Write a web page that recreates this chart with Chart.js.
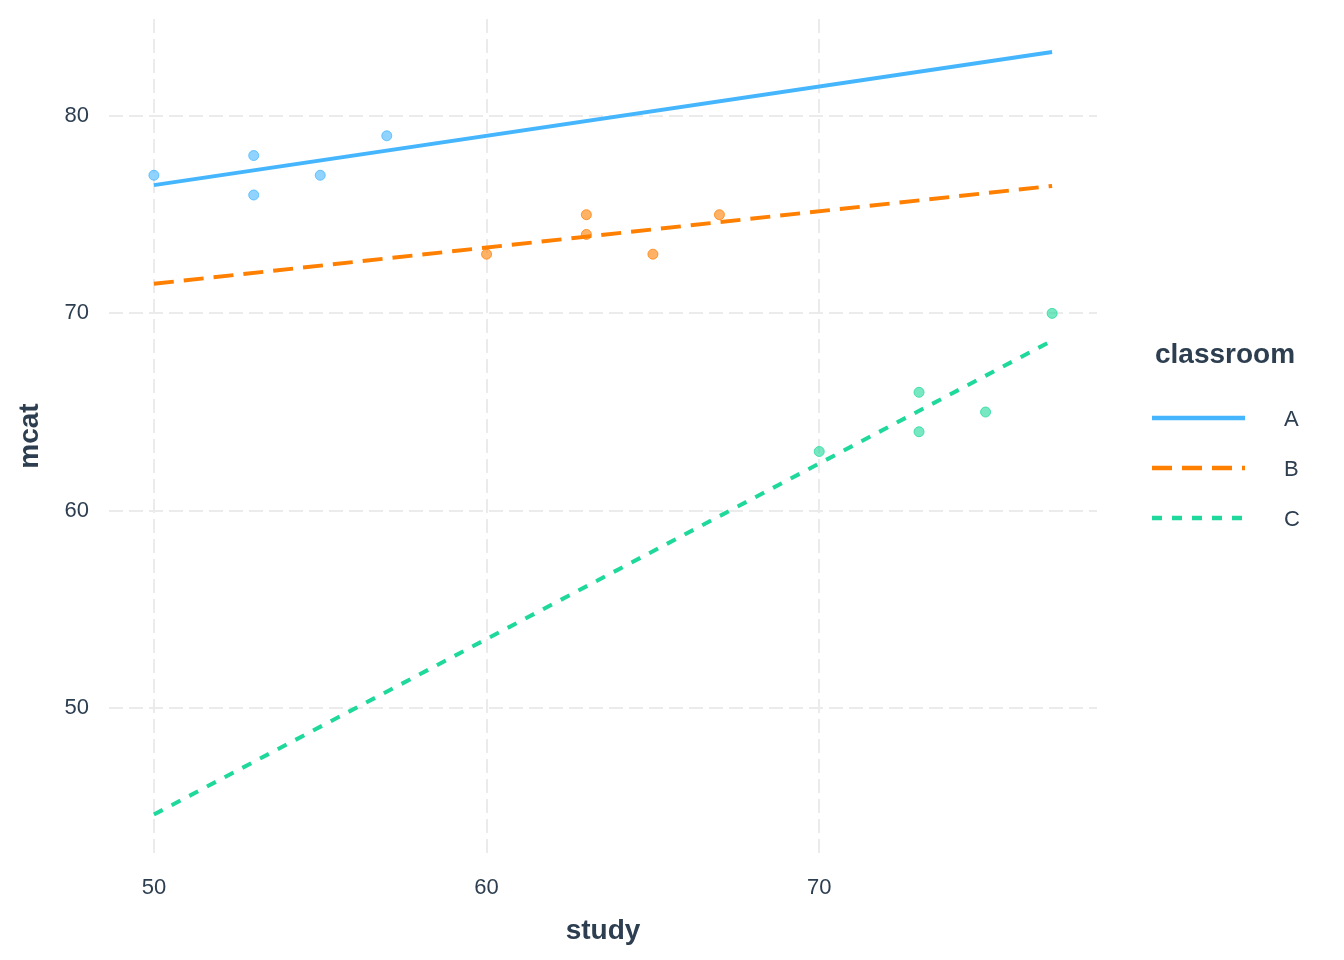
<!DOCTYPE html>
<html>
<head>
<meta charset="utf-8">
<script src="https://cdn.jsdelivr.net/npm/chart.js@4/dist/chart.umd.min.js"></script>
<style>
  body { margin: 0; background: #fff; }
  #wrap { width: 1344px; height: 960px; }
</style>
</head>
<body>
<div id="wrap"><canvas id="mcatChart" width="1344" height="960"></canvas></div>
<script>
// raw points per classroom
const studyA = [50, 53, 53, 55, 57];
const mcatA  = [77, 78, 76, 77, 79];
const studyB = [60, 63, 63, 65, 67];
const mcatB  = [73, 75, 74, 73, 75];
const studyC = [70, 73, 73, 75, 77];
const mcatC  = [63, 66, 64, 65, 70];

// fitted lines (ends)
const fitX  = [50, 77];
const fitA  = [76.5, 83.25];
const fitB  = [71.5, 76.46];
const fitC  = [44.6, 68.62];

const classrooms = ['A', 'B', 'C'];
const xTicks = [50, 60, 70];
const yTicks = [50, 60, 70, 80];

const colors = ['#45B6FE', '#FF7F00', '#1ED99B'];
const dashes = [[], [20, 10], [10, 10]];
const txt = '#2C3E50';
const fontFam = '"Liberation Sans", Arial, sans-serif';

function pts(xs, ys) {
    return xs.map((x, i) => ({ x: x, y: ys[i] }));
}
function alpha(hex, a) {
    const n = parseInt(hex.slice(1), 16);
    return 'rgba(' + (n >> 16) + ',' + ((n >> 8) & 255) + ',' + (n & 255) + ',' + a + ')';
}

const pointSets = [pts(studyA, mcatA), pts(studyB, mcatB), pts(studyC, mcatC)];
const fitSets = [pts(fitX, fitA), pts(fitX, fitB), pts(fitX, fitC)];

const datasets = [];
classrooms.forEach((c, i) => {
    datasets.push({
        label: c + ' points',
        data: pointSets[i],
        backgroundColor: alpha(colors[i], 0.6),
        borderColor: alpha(colors[i], 0.75),
        borderWidth: 1,
        pointRadius: 5,
        order: 2
    });
    datasets.push({
        label: c,
        data: fitSets[i],
        showLine: true,
        borderColor: colors[i],
        borderWidth: 4,
        borderDash: dashes[i],
        borderCapStyle: 'butt',
        pointRadius: 0,
        order: 1
    });
});

// ggplot-style legend on the right
const sideLegend = {
    id: 'sideLegend',
    afterDraw(chart) {
        const g = chart.ctx;
        g.save();
        g.fillStyle = txt;
        g.textBaseline = 'middle';
        g.textAlign = 'left';
        g.font = 'bold 28px ' + fontFam;
        g.fillText('classroom', 1155, 355);
        g.font = '22px ' + fontFam;
        classrooms.forEach((c, i) => {
            const y = 418 + i * 50;
            g.strokeStyle = colors[i];
            g.lineWidth = 4.5;
            g.lineCap = 'butt';
            g.setLineDash(dashes[i]);
            g.beginPath();
            g.moveTo(1152, y);
            g.lineTo(1245, y);
            g.stroke();
            g.setLineDash([]);
            g.fillText(c, 1284, y + 2);
        });
        g.restore();
    }
};

const ctx = document.getElementById('mcatChart').getContext('2d');
new Chart(ctx, {
    type: 'scatter',
    data: { datasets: datasets },
    options: {
        responsive: false,
        animation: false,
        layout: { padding: { top: 19, right: 247, bottom: 0, left: 0 } },
        plugins: {
            legend: { display: false },
            tooltip: { enabled: false }
        },
        scales: {
            x: {
                type: 'linear',
                min: 48.65,
                max: 78.35,
                afterBuildTicks: s => { s.ticks = xTicks.map(v => ({ value: v })); },
                afterFit: s => { s.height = 107; s.paddingLeft = 0; s.paddingRight = 0; },
                grid: { color: '#EBEBEB', lineWidth: 2, drawTicks: false },
                border: { display: false, dash: [14, 6] },
                ticks: { color: txt, padding: 22, font: { family: fontFam, size: 22 } },
                title: {
                    display: true, text: 'study', color: txt,
                    font: { family: fontFam, size: 28, weight: 'bold' },
                    padding: { top: 6, bottom: 12 }
                }
            },
            y: {
                type: 'linear',
                min: 42.65,
                max: 84.92,
                afterBuildTicks: s => { s.ticks = yTicks.map(v => ({ value: v })); },
                afterFit: s => { s.width = 109; s.paddingTop = 0; s.paddingBottom = 0; },
                grid: { color: '#EBEBEB', lineWidth: 2, drawTicks: false },
                border: { display: false, dash: [14, 6] },
                ticks: { color: txt, padding: 20, font: { family: fontFam, size: 22 } },
                title: {
                    display: true, text: 'mcat', color: txt,
                    font: { family: fontFam, size: 28, weight: 'bold' },
                    padding: { top: 13, bottom: 0 }
                }
            }
        }
    },
    plugins: [sideLegend]
});
</script>
</body>
</html>
